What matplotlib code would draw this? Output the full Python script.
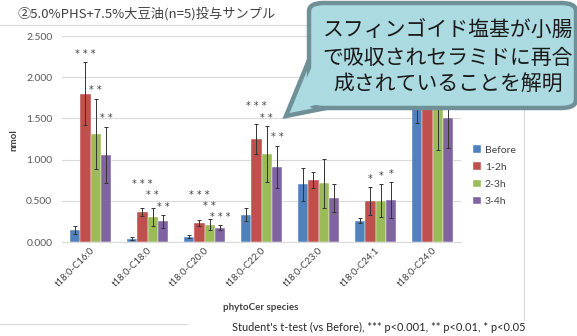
import numpy as np
import matplotlib
matplotlib.use('Agg')
import matplotlib.pyplot as plt
from matplotlib.patches import FancyBboxPatch, Polygon
from matplotlib.lines import Line2D

W, H = 577, 336

# phytoceramide amounts (nmol), mean and SD per time point
species = ['t18:0-C16:0', 't18:0-C18:0', 't18:0-C20:0', 't18:0-C22:0',
           't18:0-C23:0', 't18:0-C24:1', 't18:0-C24:0']
periods = ['Before', '1-2h', '2-3h', '3-4h']
before = [0.145, 0.04, 0.065, 0.33, 0.70, 0.26, 1.72]
before_sd = [0.05, 0.015, 0.015, 0.08, 0.20, 0.03, 0.28]
h1_2 = [1.80, 0.36, 0.235, 1.25, 0.75, 0.50, 1.90]
h1_2_sd = [0.38, 0.05, 0.035, 0.18, 0.10, 0.17, 0.20]
h2_3 = [1.31, 0.30, 0.21, 1.07, 0.71, 0.50, 1.80]
h2_3_sd = [0.43, 0.11, 0.07, 0.34, 0.30, 0.20, 0.68]
h3_4 = [1.06, 0.25, 0.175, 0.91, 0.53, 0.51, 1.50]
h3_4_sd = [0.34, 0.08, 0.03, 0.26, 0.17, 0.22, 0.36]
# significance marks vs Before (1-2h, 2-3h, 3-4h)
sig = [['***', '**', '**'], ['***', '**', '**'], ['***', '**', '***'],
       ['***', '**', '**'], ['', '', ''], ['*', '*', '*'], ['', '', '']]

colors = ['#4F81BD', '#C0504D', '#9BBB59', '#8064A2']
latin = ['Lato', 'Noto Sans CJK JP']
jp = ['Noto Sans CJK JP', 'DejaVu Sans']

fig = plt.figure(figsize=(W / 100, H / 100), dpi=100)


def fx(x):
    return x / W


def fy(y):
    return 1 - y / H


ax = fig.add_axes([fx(62), fy(242), fx(461) - fx(62), fy(36) - fy(242)])

series = [(before, before_sd), (h1_2, h1_2_sd), (h2_3, h2_3_sd), (h3_4, h3_4_sd)]
x = np.arange(len(species))
bw = 0.18
for i, (vals, sds) in enumerate(series):
    pos = x + (i - 1.5) * bw
    ax.bar(pos, vals, bw, color=colors[i], label=periods[i], zorder=2,
           edgecolor='white', linewidth=0.3)
    ax.errorbar(pos, vals, yerr=sds, fmt='none', ecolor='#333333',
                elinewidth=0.7, capsize=1.5, capthick=0.7, zorder=3)

# stars above error bars, stacked when wide labels would collide
for g in range(len(species)):
    prev = None
    for k in (2, 1, 0):
        s = sig[g][k]
        if not s:
            prev = None
            continue
        vals, sds = series[k + 1]
        yy = vals[g] + sds[g] + 0.10
        if prev is not None and len(s) > 1 and len(prev[1]) > 1:
            yy = max(yy, prev[0] + 0.135)
        prev = (yy, s)
        ax.text(x[g] + (k - 0.5) * bw, yy, ' '.join(s), ha='center', va='center',
                fontsize=7, color='#404040', family='DejaVu Sans', zorder=4,
                clip_on=False)

ax.set_xlim(-0.5, len(species) - 0.5)
ax.set_ylim(0, 2.5)
ax.set_yticks(np.arange(0, 2.51, 0.5))
ax.set_yticklabels([f'{v:.3f}' for v in np.arange(0, 2.51, 0.5)],
                   fontsize=7.5, color='#595959', family=latin)
ax.set_xticks(x)
ax.set_xticklabels(species, rotation=45, ha='right', rotation_mode='anchor',
                   fontsize=6.8, color='#404040', family=latin)
ax.tick_params(axis='y', length=0, pad=7)
ax.tick_params(axis='x', length=0, pad=3)
ax.grid(axis='y', color='#D9D9D9', linewidth=0.8, zorder=0)
ax.set_axisbelow(True)
for sp in ('top', 'right', 'left'):
    ax.spines[sp].set_visible(False)
ax.spines['bottom'].set_color('#D9D9D9')

fig.text(fx(14), fy(140), 'nmol', rotation=90, ha='center', va='center',
         fontsize=7, fontweight='bold', color='#404040', family=latin)
fig.text(fx(261), fy(308), 'phytoCer species', ha='center', va='center',
         fontsize=7, fontweight='bold', color='#404040', family=latin)

ax.legend(loc='upper left', bbox_to_anchor=(fx(464), fy(136)),
          bbox_transform=fig.transFigure, frameon=False,
          handlelength=0.7, handleheight=0.7, handletextpad=0.4,
          labelspacing=0.75, prop={'family': latin, 'size': 7.5},
          labelcolor='#404040')

# title and chart-area frame
fig.text(fx(18), fy(14), '②5.0%PHS+7.5%大豆油(n=5)投与サンプル', ha='left', va='center',
         fontsize=9.5, color='#404040', family=jp)
frame = dict(color='#D9D9D9', linewidth=0.8, transform=fig.transFigure)
fig.add_artist(Line2D([0, 1], [fy(25), fy(25)], **frame))
fig.add_artist(Line2D([fx(524), fx(524)], [fy(25), fy(320)], **frame))
fig.add_artist(Line2D([0, fx(187)], [fy(324), fy(324)], **frame))

fig.text(fx(526), fy(327), "Student's t-test (vs Before), *** p<0.001, ** p<0.01, * p<0.05",
         ha='right', va='center', fontsize=7.9, color='#262626', family=latin)

# callout bubble
fill, edge = '#ACDAE1', '#6F9097'
tail = [(fx(286), fy(116)), (fx(309), fy(60)), (fx(326), fy(108))]
fig.add_artist(Polygon(tail, closed=True, facecolor=fill, edgecolor=edge,
                       linewidth=3.2, transform=fig.transFigure, zorder=10))
box = FancyBboxPatch((fx(309), fy(108)), fx(576) - fx(309), fy(3) - fy(108),
                     boxstyle='round,pad=0,rounding_size=0.025',
                     facecolor=fill, edgecolor=edge, linewidth=3.2,
                     transform=fig.transFigure, zorder=11)
fig.add_artist(box)
inner = [(fx(292), fy(111)), (fx(313), fy(64)), (fx(316), fy(64)),
         (fx(323), fy(103))]
fig.add_artist(Polygon(inner, closed=True, facecolor=fill, edgecolor='none',
                       transform=fig.transFigure, zorder=12))
for line, yy in zip(['スフィンゴイド塩基が小腸', 'で吸収されセラミドに再合', '成されていることを解明'],
                    [30, 58, 85]):
    fig.text(fx(448), fy(yy), line, ha='center', va='center', fontsize=15,
             color='#1A1A1A', family=jp, zorder=13)

fig.savefig('out.png', dpi=100)
